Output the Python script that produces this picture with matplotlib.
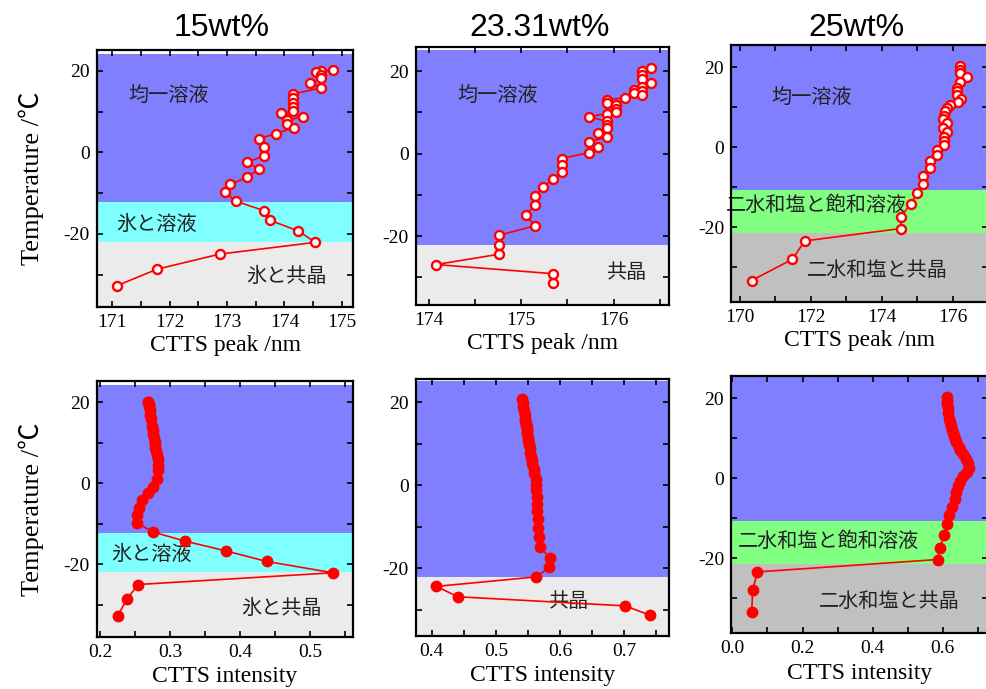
import matplotlib
matplotlib.use("Agg")
import matplotlib.pyplot as plt
from matplotlib.ticker import MultipleLocator

plt.rcParams['axes.unicode_minus'] = False
plt.rcParams['font.family'] = ['Liberation Serif', 'Noto Sans CJK JP']

# ---- data ----
# 15 wt%
t15 = [20.1, 20.0, 19.6, 19.0, 18.2, 17.0, 15.8, 14.3, 13.3, 12.2,
       11.2, 10.1, 9.6, 8.7, 7.9, 7.0, 6.0, 4.6, 3.3, 1.2,
       -0.8, -2.5, -4.1, -6.1, -7.9, -9.7, -12.0, -14.3, -16.7, -19.3,
       -22.1, -25.0, -28.7, -32.7]
peak15 = [174.84, 174.64, 174.55, 174.64, 174.64, 174.45, 174.64, 174.15, 174.15, 174.15,
          174.15, 174.15, 173.94, 174.33, 174.04, 174.04, 174.16, 173.85, 173.55, 173.65,
          173.65, 173.35, 173.56, 173.35, 173.06, 172.96, 173.15, 173.64, 173.75, 174.24,
          174.54, 172.87, 171.78, 171.09]
int15 = [0.269, 0.269, 0.270, 0.270, 0.271, 0.271, 0.273, 0.274, 0.275, 0.276,
         0.277, 0.278, 0.278, 0.279, 0.280, 0.281, 0.282, 0.283, 0.283, 0.281,
         0.275, 0.268, 0.260, 0.255, 0.252, 0.252, 0.275, 0.322, 0.380, 0.438,
         0.533, 0.254, 0.238, 0.225]

# 23.31 wt%
t23 = [20.75, 19.95, 19.0, 18.0, 17.0, 16.1, 15.5, 15.1, 14.6, 14.1,
       13.5, 13.1, 12.3, 11.7, 10.9, 10.1, 9.7, 8.9, 7.8, 6.9,
       6.1, 5.1, 3.9, 2.9, 1.6, 0.2, -1.2, -2.8, -4.5, -6.2,
       -8.2, -10.2, -12.4, -14.9, -17.5, -19.8, -22.1, -24.4, -26.9, -29.1,
       -31.4]
peak23 = [176.41, 176.31, 176.31, 176.31, 176.41, 176.31, 176.22, 176.31, 176.22, 176.31,
          176.12, 175.93, 175.93, 176.03, 176.03, 176.03, 175.93, 175.73, 175.93, 175.93,
          175.93, 175.83, 175.93, 175.73, 175.83, 175.73, 175.44, 175.44, 175.44, 175.34,
          175.24, 175.15, 175.15, 175.05, 175.15, 174.76, 174.76, 174.76, 174.08, 175.34,
          175.34]
int23 = [0.541, 0.542, 0.543, 0.544, 0.545, 0.546, 0.546, 0.547, 0.547, 0.548,
         0.548, 0.549, 0.549, 0.550, 0.550, 0.551, 0.552, 0.553, 0.554, 0.555,
         0.556, 0.557, 0.559, 0.560, 0.562, 0.563, 0.563, 0.564, 0.564, 0.564,
         0.565, 0.566, 0.567, 0.569, 0.584, 0.583, 0.563, 0.407, 0.441, 0.702,
         0.741]

# 25 wt%
t25 = [20.4, 19.3, 18.5, 17.7, 16.4, 14.75, 14.0, 13.0, 12.1, 11.4,
       10.7, 9.75, 9.0, 7.9, 7.0, 6.0, 4.9, 3.9, 2.65, 1.6,
       0.6, -0.6, -1.9, -3.4, -5.1, -7.1, -9.25, -11.5, -14.2, -17.3,
       -20.3, -23.4, -28.0, -33.3]
peak25 = [176.22, 176.22, 176.22, 176.41, 176.22, 176.12, 176.12, 176.12, 176.24, 176.15,
          175.92, 175.85, 175.80, 175.75, 175.73, 175.85, 175.73, 175.85, 175.75, 175.75,
          175.75, 175.56, 175.56, 175.37, 175.37, 175.18, 175.18, 175.00, 174.82, 174.54,
          174.54, 171.83, 171.48, 170.33]
int25 = [0.611, 0.612, 0.613, 0.614, 0.616, 0.618, 0.620, 0.623, 0.626, 0.628,
         0.631, 0.635, 0.639, 0.645, 0.649, 0.657, 0.665, 0.672, 0.675, 0.668,
         0.658, 0.650, 0.644, 0.639, 0.634, 0.627, 0.619, 0.613, 0.604, 0.592,
         0.585, 0.071, 0.058, 0.055]

titles = ['15wt%', '23.31wt%', '25wt%']

# phase regions: (lower T, upper T, colour) per concentration
phases15 = [(-12.2, 24.2, '#8080ff'), (-21.9, -12.2, '#80ffff'), (-40, -21.9, '#ebebeb')]
phases23 = [(-22.1, 25.2, '#8080ff'), (-40, -22.1, '#ebebeb')]
phases25 = [(-10.6, 25.4, '#8080ff'), (-21.4, -10.6, '#80ff80'), (-40, -21.4, '#c0c0c0')]

BLUE_LBL = '均一溶液'

# ---- layout helpers (pixel boxes of the reference) ----
W, H = 986, 689
fig = plt.figure(figsize=(W / 100, H / 100), dpi=100)


def make_ax(l, t, r, b):
    return fig.add_axes([l / W, 1 - b / H, (r - l) / W, (b - t) / H])


def style(ax, xlim, ylim, xmaj, xmin):
    ax.set_xlim(*xlim)
    ax.set_ylim(*ylim)
    ax.xaxis.set_major_locator(MultipleLocator(xmaj))
    ax.xaxis.set_minor_locator(MultipleLocator(xmin))
    ax.yaxis.set_major_locator(MultipleLocator(20))
    ax.yaxis.set_minor_locator(MultipleLocator(10))
    ax.tick_params(which='both', direction='in', top=True, right=True,
                   length=4.5, width=1.2, labelsize=14, pad=5)
    for s in ax.spines.values():
        s.set_linewidth(1.6)
        s.set_zorder(5)


def shade(ax, phases):
    for lo, hi, c in phases:
        ax.axhspan(lo, hi, color=c, lw=0, zorder=0)


def jp(ax, x, y, s):
    ax.text(x, y, s, ha='center', va='center', fontsize=14.5,
            family=['Noto Sans CJK JP'], color='#222222', zorder=3)


boxes_top = [(96.7, 50, 353.3, 306.7), (415.7, 46.7, 669, 305), (731, 45, 988, 301.7)]
boxes_bot = [(96.7, 381, 353.3, 636.7), (415.7, 379.3, 669, 635.7), (731, 376, 988, 633.3)]

temps = [t15, t23, t25]
peaks = [peak15, peak23, peak25]
ints = [int15, int23, int25]
phases = [phases15, phases23, phases25]

xl_top = [(170.73, 175.2), (173.86, 176.6), (169.75, 177.0)]
yl_top = [(-37.9, 25.1), (-36.7, 25.9), (-38.6, 25.6)]
xt_top = [(1, 0.5), (1, 0.5), (2, 1)]
xl_bot = [(0.195, 0.562), (0.375, 0.77), (-0.004, 0.729)]
yl_bot = [(-37.9, 25.3), (-36.3, 25.6), (-38.75, 25.6)]
xt_bot = [(0.1, 0.05), (0.1, 0.05), (0.2, 0.1)]

axes_top, axes_bot = [], []
for i in range(3):
    ax = make_ax(*boxes_top[i])
    shade(ax, phases[i])
    ax.plot(peaks[i], temps[i], '-o', color='red', lw=1.2, ms=6.5,
            mfc='white', mec='red', mew=1.7, zorder=4)
    style(ax, xl_top[i], yl_top[i], *xt_top[i])
    ax.set_xlabel('CTTS peak /nm', fontsize=17, labelpad=3)
    axes_top.append(ax)

    ax2 = make_ax(*boxes_bot[i])
    shade(ax2, phases[i])
    ax2.plot(ints[i], temps[i], '-o', color='red', lw=1.2, ms=7.5,
             mfc='red', mec='red', zorder=4)
    style(ax2, xl_bot[i], yl_bot[i], *xt_bot[i])
    ax2.set_xlabel('CTTS intensity', fontsize=17, labelpad=4)
    axes_bot.append(ax2)

    cx = (boxes_top[i][0] + boxes_top[i][2]) / 2 - 3
    fig.text(cx / W, 1 - 28 / H, titles[i], ha='center', va='center',
             fontsize=23, family=['Liberation Sans'])

for ax in (axes_top[0], axes_bot[0]):
    ax.set_ylabel('Temperature /℃', fontsize=19, labelpad=14)

# phase labels
jp(axes_top[0], 171.99, 13.6, BLUE_LBL)
jp(axes_top[0], 171.78, -17.6, '氷と溶液')
jp(axes_top[0], 174.03, -30.4, '氷と共晶')
jp(axes_top[1], 174.75, 13.9, BLUE_LBL)
jp(axes_top[1], 176.14, -28.8, '共晶')
jp(axes_top[2], 172.03, 12.3, BLUE_LBL)
jp(axes_top[2], 172.17, -14.4, '二水和塩と飽和溶液')
jp(axes_top[2], 173.89, -30.7, '二水和塩と共晶')
jp(axes_bot[0], 0.274, -17.5, '氷と溶液')
jp(axes_bot[0], 0.459, -30.8, '氷と共晶')
jp(axes_bot[1], 0.6135, -28.0, '共晶')
jp(axes_bot[2], 0.273, -15.7, '二水和塩と飽和溶液')
jp(axes_bot[2], 0.447, -30.9, '二水和塩と共晶')

fig.savefig('out.png', dpi=100)
